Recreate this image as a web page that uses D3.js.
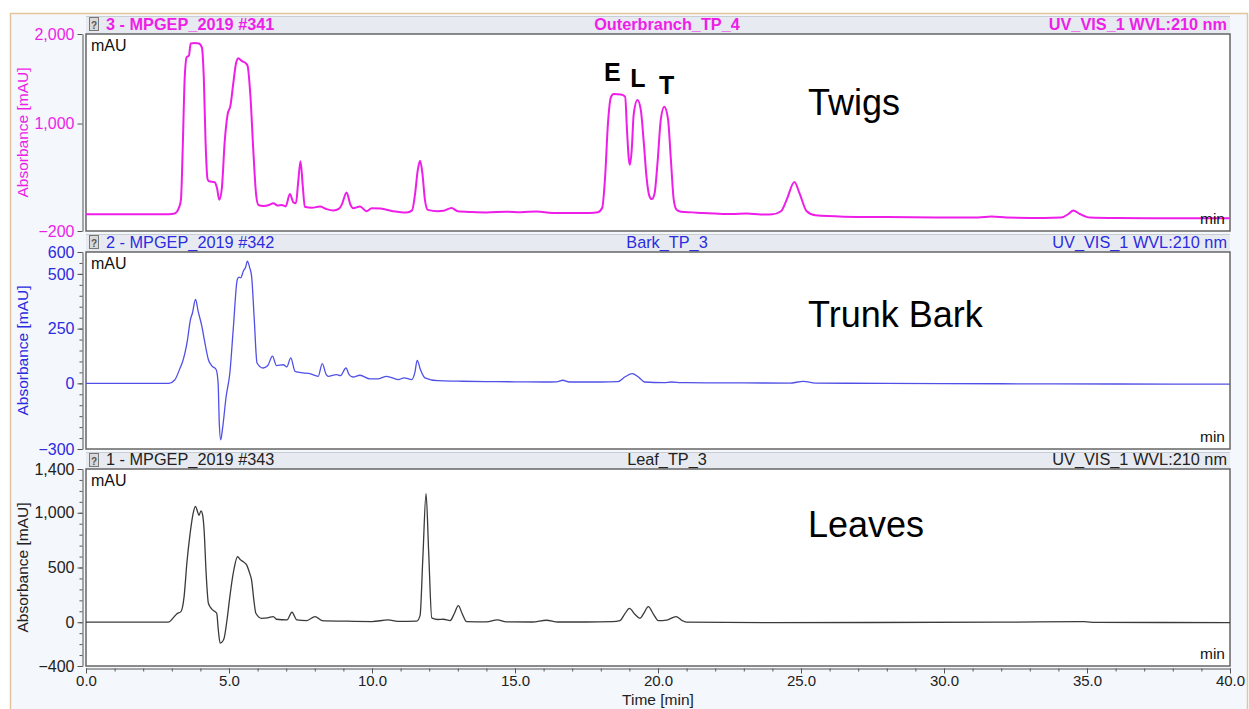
<!DOCTYPE html>
<html>
<head>
<meta charset="utf-8">
<script src="https://cdn.jsdelivr.net/npm/d3@7"></script>
<style>
  body { margin: 0; background: #fff; }
  text { font-family: "Liberation Sans", Arial, sans-serif; }
</style>
</head>
<body>
<div id="chart"></div>
<script>
// chromatogram traces, [time (min), absorbance (mAU)]
var twigs = [[0,-12],[2.9,-12],[3.1,-5],[3.25,60],[3.32,150],[3.38,700],[3.45,1500],[3.52,1740],[3.6,1760],[3.66,1895],[3.8,1900],[3.95,1895],[4.05,1850],[4.12,1500],[4.18,800],[4.25,380],[4.3,355],[4.5,345],[4.58,280],[4.66,150],[4.75,280],[4.85,800],[4.95,1100],[5.05,1200],[5.15,1450],[5.25,1680],[5.33,1730],[5.42,1705],[5.5,1690],[5.6,1670],[5.65,1645],[5.75,1300],[5.85,700],[5.95,200],[6.03,90],[6.2,80],[6.4,90],[6.55,110],[6.7,85],[6.85,90],[6.98,75],[7.13,213],[7.25,120],[7.34,110],[7.42,350],[7.5,580],[7.58,300],[7.65,70],[7.9,60],[8.18,73],[8.4,45],[8.65,28],[8.85,50],[8.95,100],[9.11,230],[9.25,90],[9.34,55],[9.58,73],[9.81,21],[9.99,55],[10.3,50],[10.74,21],[11.21,6],[11.4,30],[11.5,200],[11.6,480],[11.68,584],[11.76,450],[11.85,150],[11.95,36],[12.3,20],[12.5,25],[12.78,58],[13.0,20],[13.5,12],[14.0,8],[14.7,16],[15.2,10],[15.76,18],[16.3,2],[17.0,0],[17.6,2],[17.9,10],[18.05,60],[18.15,400],[18.25,1000],[18.35,1290],[18.45,1330],[18.7,1325],[18.85,1300],[18.92,900],[18.98,600],[19.02,540],[19.08,700],[19.15,1100],[19.28,1262],[19.4,1150],[19.5,800],[19.6,400],[19.7,190],[19.78,156],[19.88,220],[19.98,550],[20.1,1050],[20.22,1187],[20.35,1050],[20.45,600],[20.55,150],[20.65,36],[20.8,15],[21.2,8],[21.6,0],[22.0,-5],[22.6,-10],[23.1,-5],[23.6,-15],[24.0,-14],[24.3,20],[24.5,150],[24.77,347],[24.95,220],[25.2,20],[25.5,-25],[26.5,-40],[28,-45],[30,-50],[31.2,-48],[31.67,-38],[32.2,-50],[33.5,-55],[34.1,-50],[34.35,-10],[34.52,28],[34.75,-10],[35.1,-50],[36,-55],[38,-57],[40,-57]];

var bark = [[0,0],[2.9,0],[3.1,15],[3.29,70],[3.38,100],[3.46,139],[3.55,200],[3.65,290],[3.72,320],[3.83,383],[3.92,330],[4.05,261],[4.15,190],[4.28,108],[4.4,80],[4.55,63],[4.62,0],[4.66,-180],[4.71,-258],[4.78,-200],[4.9,-60],[5.03,47],[5.15,250],[5.29,474],[5.35,485],[5.41,482],[5.5,512],[5.58,530],[5.64,558],[5.72,530],[5.79,490],[5.88,300],[5.98,93],[6.19,70],[6.35,80],[6.52,124],[6.66,81],[6.9,85],[7.02,75],[7.16,116],[7.31,55],[7.6,48],[7.83,44],[8.12,32],[8.26,90],[8.4,40],[8.47,32],[8.76,40],[8.9,35],[9.09,70],[9.2,40],[9.34,29],[9.58,37],[9.93,20],[10.2,20],[10.51,32],[10.92,17],[11.12,25],[11.39,17],[11.5,50],[11.58,105],[11.7,60],[11.85,25],[12.3,12],[13,10],[14,8],[15,7],[16,6],[16.45,7],[16.67,14],[16.9,6],[18,6],[18.6,8],[18.85,30],[19.1,44],[19.35,25],[19.53,6],[20.2,3],[20.48,6],[20.8,3],[23,2],[24.6,1],[25.08,9],[25.5,1],[28,0],[32,-2],[36,-3],[40,-4]];

var leaves = [[0,0],[2.88,0],[3.05,40],[3.17,76],[3.32,97],[3.43,234],[3.53,550],[3.64,810],[3.75,1000],[3.83,1059],[3.9,1010],[3.95,977],[4.02,1017],[4.07,990],[4.13,841],[4.2,450],[4.28,173],[4.4,120],[4.51,97],[4.57,82],[4.63,-80],[4.69,-191],[4.76,-180],[4.83,-146],[4.93,20],[5.03,234],[5.15,450],[5.3,598],[5.4,570],[5.5,552],[5.62,522],[5.72,450],[5.79,385],[5.87,200],[5.94,82],[6.14,36],[6.35,40],[6.55,52],[6.66,27],[7.03,21],[7.2,91],[7.37,21],[7.72,15],[8.01,52],[8.25,15],[9,10],[10,6],[10.57,21],[10.9,8],[11.56,10],[11.68,60],[11.78,600],[11.89,1175],[11.98,650],[12.09,40],[12.3,25],[12.5,27],[12.73,15],[12.88,80],[13.02,152],[13.15,80],[13.31,5],[14,3],[14.38,21],[14.7,3],[15.6,2],[16.1,18],[16.5,2],[17.5,2],[18.4,5],[18.67,15],[18.85,80],[19.0,127],[19.2,70],[19.37,36],[19.5,80],[19.66,143],[19.85,70],[20.01,15],[20.3,20],[20.63,52],[20.85,15],[21.0,0],[24,-3],[32,0],[34.9,5],[35.3,-2],[40,-3]];

// tick labels
var twigsTicks = [-200, 1000, 2000];
var barkTicks = [-300, 0, 250, 500, 600];
var leavesTicks = [-400, 0, 500, 1000, 1400];
var timeTicks = [0, 5, 10, 15, 20, 25, 30, 35, 40];

var panels = [
  {data: twigs, ticks: twigsTicks, minor: [], domain: [-200, 2000], top: 16, plotTop: 34, bottom: 231,
   color: "#ee1ee8", textColor: "#ee1ee8", bold: true, width: 2,
   left: "3 - MPGEP_2019 #341", mid: "Outerbranch_TP_4", label: "Twigs", labelY: 115},
  {data: bark, ticks: barkTicks, minor: d3.range(-300, 601, 50), domain: [-300, 600], top: 234, plotTop: 252, bottom: 449,
   color: "#5050e6", textColor: "#2b2be0", bold: false, width: 1.3,
   left: "2 - MPGEP_2019 #342", mid: "Bark_TP_3", label: "Trunk Bark", labelY: 327},
  {data: leaves, ticks: leavesTicks, minor: d3.range(-400, 1401, 100), domain: [-400, 1400], top: 452, plotTop: 469, bottom: 666,
   color: "#3a3a3a", textColor: "#222", bold: false, width: 1.3,
   left: "1 - MPGEP_2019 #343", mid: "Leaf_TP_3", label: "Leaves", labelY: 537}
];

var W = 1249, H = 709;
var svg = d3.select("#chart").append("svg")
    .attr("width", W).attr("height", H);

// window background
svg.append("rect").attr("x", 10).attr("y", 13).attr("width", W - 12).attr("height", H - 13)
    .attr("fill", "#f4f7fb");
svg.append("path").attr("d", "M10.5," + H + "V13.5H1247.5V" + H)
    .attr("fill", "none").attr("stroke", "#e2c59a").attr("stroke-width", 1.5);

var x = d3.scaleLinear().domain([0, 40]).range([86, 1230]);
var fmt = d3.format(",");

panels.forEach(function(p) {
  var y = d3.scaleLinear().domain(p.domain).range([p.bottom, p.plotTop]);

  // header bar
  svg.append("rect").attr("x", 86).attr("y", p.top).attr("width", 1144).attr("height", p.plotTop - p.top)
      .attr("fill", "#e7ebf1");
  svg.append("line").attr("x1", 86).attr("x2", 1230).attr("y1", p.top + 0.5).attr("y2", p.top + 0.5)
      .attr("stroke", "#c8ccd3");
  // little icon
  svg.append("rect").attr("x", 89.5).attr("y", p.top + 1.5).attr("width", 9).attr("height", 13)
      .attr("fill", "#d9d9d9").attr("stroke", "#777");
  svg.append("text").attr("x", 94).attr("y", p.top + 12.5).attr("text-anchor", "middle")
      .style("font-size", "10px").style("font-weight", "bold").attr("fill", "#555").text("?");

  var hdr = function(xp, anchor, s) {
    svg.append("text").attr("x", xp).attr("y", p.plotTop - 4).attr("text-anchor", anchor)
        .style("font-size", "16.3px").style("font-weight", p.bold ? "bold" : "normal")
        .attr("fill", p.textColor).text(s);
  };
  hdr(106, "start", p.left);
  hdr(667, "middle", p.mid);
  hdr(1227, "end", "UV_VIS_1 WVL:210 nm");

  // plot area
  svg.append("rect").attr("x", 86).attr("y", p.plotTop).attr("width", 1144).attr("height", p.bottom - p.plotTop)
      .attr("fill", "#fff").attr("stroke", "#666").attr("stroke-width", 1.5);

  // y axis
  var ax = svg.append("g").attr("transform", "translate(82.5,0)")
      .call(d3.axisLeft(y).tickValues(p.ticks).tickFormat(fmt).tickSize(5).tickSizeOuter(0));
  ax.select(".domain").attr("stroke", "#555");
  ax.selectAll(".tick line").attr("stroke", "#555");
  ax.selectAll("text").style("font-size", "16px").attr("fill", p.textColor)
      .style("font-family", "'Liberation Sans', Arial, sans-serif");
  if (p.minor.length) {
    var mn = svg.append("g").attr("transform", "translate(82.5,0)")
        .call(d3.axisLeft(y).tickValues(p.minor).tickFormat("").tickSize(3).tickSizeOuter(0));
    mn.select(".domain").remove();
    mn.selectAll("line").attr("stroke", "#555");
  }
  svg.append("text")
      .attr("transform", "translate(28," + ((p.plotTop + p.bottom) / 2) + ") rotate(-90)")
      .attr("text-anchor", "middle").style("font-size", "15.5px").attr("fill", p.textColor)
      .text("Absorbance [mAU]");

  // trace
  var clipId = "clip" + p.top;
  svg.append("clipPath").attr("id", clipId).append("rect")
      .attr("x", 86).attr("y", p.plotTop).attr("width", 1144).attr("height", p.bottom - p.plotTop);
  var line = d3.line().x(function(d) { return x(d[0]); }).y(function(d) { return y(d[1]); })
      .curve(d3.curveMonotoneX);
  svg.append("path").datum(p.data).attr("d", line).attr("clip-path", "url(#" + clipId + ")")
      .attr("fill", "none").attr("stroke", p.color).attr("stroke-width", p.width)
      .attr("stroke-linejoin", "round");

  svg.append("text").attr("x", 91).attr("y", p.plotTop + 17).style("font-size", "16px")
      .attr("fill", "#111").text("mAU");
  svg.append("text").attr("x", 1225).attr("y", p.bottom - 7).attr("text-anchor", "end")
      .style("font-size", "15.5px").attr("fill", "#111").text("min");
  svg.append("text").attr("x", 808).attr("y", p.labelY).style("font-size", "36px")
      .attr("fill", "#000").text(p.label);
});

// peak letters on the twigs trace
var peakNames = ["E", "L", "T"];
var peakTimes = [18.4, 19.3, 20.3];
var peakHeights = [1330, 1262, 1187];
var yTw = d3.scaleLinear().domain(panels[0].domain).range([panels[0].bottom, panels[0].plotTop]);
svg.selectAll(".peak").data(peakNames).enter().append("text")
    .attr("x", function(d, i) { return x(peakTimes[i]); })
    .attr("y", function(d, i) { return yTw(peakHeights[i]) - 13; })
    .attr("text-anchor", "middle").style("font-size", "25px").style("font-weight", "bold")
    .attr("fill", "#000").text(function(d) { return d; });

// time axis
var xa = svg.append("g").attr("transform", "translate(0,668.5)")
    .call(d3.axisBottom(x).tickValues(timeTicks).tickFormat(d3.format(".1f")).tickSize(5).tickPadding(2).tickSizeOuter(0));
xa.select(".domain").attr("stroke", "#555");
xa.selectAll(".tick line").attr("stroke", "#555");
xa.selectAll("text").style("font-size", "15px").attr("fill", "#222")
    .style("font-family", "'Liberation Sans', Arial, sans-serif");
var xm = svg.append("g").attr("transform", "translate(0,668.5)")
    .call(d3.axisBottom(x).tickValues(d3.range(0, 41, 1)).tickFormat("").tickSize(3));
xm.select(".domain").remove();
xm.selectAll("line").attr("stroke", "#555");
svg.append("text").attr("x", 658).attr("y", 705).attr("text-anchor", "middle")
    .style("font-size", "15.5px").attr("fill", "#222").text("Time [min]");
</script>
</body>
</html>
